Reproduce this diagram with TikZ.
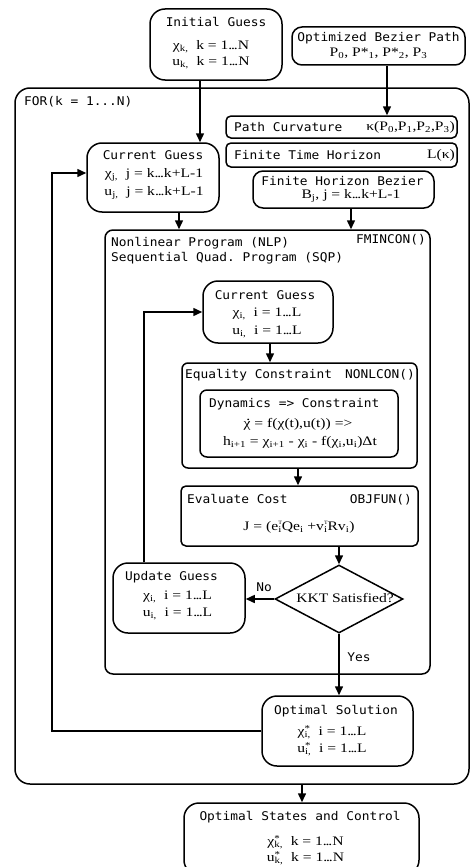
\documentclass[tikz,border=0pt]{standalone}
\usepackage{fontspec}
\setmainfont{Liberation Serif}
\setmonofont[FakeStretch=1.07]{DejaVu Sans Mono}
\newfontfamily\mthfont[FakeStretch=1.2]{Liberation Serif}
\usetikzlibrary{arrows.meta,shapes.geometric}
\newcommand\tsb[1]{\textsubscript{#1}}
\newcommand\ssb[2]{\rlap{\textsuperscript{#1}}\textsubscript{#2}}
\newcommand\dts{.\kern-0.09em.\kern-0.09em.}
\newcommand\chidot{\makebox[0pt][l]{\hspace{0.2em}\raisebox{1.2ex}{.}}χ}
\tikzset{
  box/.style={draw, line width=1.5pt, rectangle, inner sep=0pt},
  arr/.style={line width=1.5pt, -{Triangle[length=9pt,width=8pt]}},
  mono/.style={font=\fontsize{12}{14}\selectfont\ttfamily, inner sep=0pt},
  mth/.style={font=\fontsize{13}{15}\selectfont\mthfont, inner sep=0pt},
}
\begin{document}
\begin{tikzpicture}[x=1pt,y=-1pt]
\useasboundingbox[fill=white] (0,0) rectangle (471,867);
% boxes
\node[box, rounded corners=15pt, minimum width=132pt, minimum height=71pt] (ig) at (216,44.5) {};
\node[box, rounded corners=10pt, minimum width=173pt, minimum height=38pt] (obp) at (378.5,46) {};
\node[box, rounded corners=15pt, minimum width=454pt, minimum height=696pt] (for) at (242,436) {};
\node[box, rounded corners=5pt, minimum width=231pt, minimum height=22pt] (pc) at (341.5,127) {};
\node[box, rounded corners=5pt, minimum width=231pt, minimum height=24pt] (fth) at (341.5,155) {};
\node[box, rounded corners=15pt, minimum width=132pt, minimum height=69pt] (cg1) at (153,177.5) {};
\node[box, rounded corners=10pt, minimum width=181pt, minimum height=37pt] (fhb) at (343.5,189.5) {};
\node[box, rounded corners=8pt, minimum width=325pt, minimum height=444pt] (nlp) at (267.5,452) {};
\node[box, rounded corners=15pt, minimum width=130pt, minimum height=62pt] (cg2) at (268,312) {};
\node[box, rounded corners=6pt, minimum width=235pt, minimum height=105pt] (eq) at (299.5,415.5) {};
\node[box, rounded corners=7pt, minimum width=198pt, minimum height=67pt] (dyn) at (299,423.5) {};
\node[box, rounded corners=5pt, minimum width=237pt, minimum height=60pt] (ec) at (299.5,516) {};
\node[draw, line width=1.5pt, diamond, inner sep=0pt, minimum width=128pt, minimum height=68pt] (kkt) at (339,599) {};
\node[box, rounded corners=15pt, minimum width=132pt, minimum height=70pt] (ug) at (179,598) {};
\node[box, rounded corners=15pt, minimum width=151pt, minimum height=70pt] (os) at (337.5,731) {};
\node[box, rounded corners=15pt, minimum width=235pt, minimum height=72pt] (osc) at (301.5,839) {};
% texts
\node[mono] (t1) at (216,22) {Initial Guess};
\node[mth] (t2) at (211,47) {χ\tsb{k,}\ \ k = 1\dts N};
\node[mth] (t3) at (211,63) {u\tsb{k,}\ \ k = 1\dts N};
\node[mono] (t4) at (378.5,38) {Optimized Bezier Path};
\node[mth] (t5) at (378.5,53) {P\tsb{0}, P*\tsb{1}, P*\tsb{2}, P\tsb{3}};
\node[mono, anchor=west] (t6) at (24,102) {FOR(k = 1...N)};
\node[mono, anchor=west] (t7) at (234,127) {Path Curvature};
\node[mth, anchor=east] (t8) at (455,127) {κ(P\tsb{0},P\tsb{1},P\tsb{2},P\tsb{3})};
\node[mono, anchor=west] (t9) at (234,155) {Finite Time Horizon};
\node[mth, anchor=east] (t10) at (455,155) {L(κ)};
\node[mono] (t11) at (153,155) {Current Guess};
\node[mth] (t12) at (154,175) {χ\tsb{j,}\ \ j = k\dts k+L-1};
\node[mth] (t13) at (154,193) {u\tsb{j,}\ \ j = k\dts k+L-1};
\node[mono] (t14) at (342.5,181) {Finite Horizon Bezier};
\node[mth] (t15) at (351,196) {B\tsb{j}, j = k\dts k+L-1};
\node[mono, anchor=west] (t16) at (111,243) {Nonlinear Program (NLP)};
\node[mono, anchor=west] (t17) at (111,258) {Sequential Quad. Program (SQP)};
\node[mono, anchor=east] (t18) at (426,240) {FMINCON()};
\node[mono] (t19) at (265,295) {Current Guess};
\node[mth] (t20) at (267,314) {χ\tsb{i,}\ \ i = 1\dts L};
\node[mth] (t21) at (267,332) {u\tsb{i,}\ \ i = 1\dts L};
\node[mono, anchor=west] (t22) at (185,375) {Equality Constraint};
\node[mono, anchor=east] (t23) at (415,375) {NONLCON()};
\node[mono, anchor=west] (t24) at (209,404) {Dynamics => Constraint};
\node[mth] (t25) at (298,424) {\chidot{} = f(χ(t),u(t)) =>};
\node[mth] (t26) at (300,442) {h\tsb{i+1} = χ\tsb{i+1} - χ\tsb{i} - f(χ\tsb{i},u\tsb{i})Δt};
\node[mono, anchor=west] (t27) at (187,499) {Evaluate Cost};
\node[mono, anchor=east] (t28) at (412,500) {OBJFUN()};
\node[mth] (t29) at (299,527) {J = (e\ssb{\raisebox{0.25ex}{\tiny T}}{i}Qe\tsb{i} +v\ssb{\raisebox{0.25ex}{\tiny T}}{i}Rv\tsb{i})};
\node[mth] (t30) at (345,598) {KKT Satisfied?};
\node[mono, anchor=west] (t31) at (125,577) {Update Guess};
\node[mth] (t32) at (177.5,597) {χ\tsb{i,}\ \ i = 1\dts L};
\node[mth] (t33) at (177.5,614) {u\tsb{i,}\ \ i = 1\dts L};
\node[mono] (t34) at (264,587) {No};
\node[mono] (t35) at (359,657) {Yes};
\node[mono] (t36) at (336,711) {Optimal Solution};
\node[mth] (t37) at (332,732) {χ\ssb{*}{i,}\ \ i = 1\dts L};
\node[mth] (t38) at (332,749) {u\ssb{*}{i,}\ \ i = 1\dts L};
\node[mono] (t39) at (300,817) {Optimal States and Control};
\node[mth] (t40) at (305.5,842) {χ\ssb{*}{k,}\ \ k = 1\dts N};
\node[mth] (t41) at (305.5,858) {u\ssb{*}{k,}\ \ k = 1\dts N};
% connector x positions
\coordinate (xa) at (200,0);
\coordinate (xb) at (387,0);
\coordinate (xc) at (179,0);
\coordinate (xd) at (351,0);
\coordinate (xe) at (270,0);
\coordinate (xf) at (298,0);
\coordinate (xg) at (302,0);
\coordinate (fb1) at (144,0);
\coordinate (fb2) at (52,0);
\coordinate (cgin) at (0,173);
% connectors
\draw[arr] (ig.south -| xa) -- (cg1.north -| xa);
\draw[arr] (obp.south -| xb) -- (pc.north -| xb);
\draw[arr] (cg1.south -| xc) -- (nlp.north -| xc);
\draw[arr] (fhb.south -| xd) -- (nlp.north -| xd);
\draw[arr] (cg2.south -| xe) -- (eq.north -| xe);
\draw[arr] (eq.south -| xf) -- (ec.north -| xf);
\draw[arr] (ec.south -| kkt.north) -- (kkt.north);
\draw[arr] (kkt.west) -- (kkt.west -| ug.east);
\draw[arr] (kkt.south) -- (os.north -| kkt.south);
\draw[arr] (for.south -| xg) -- (osc.north -| xg);
\draw[arr] (ug.north -| fb1) |- (cg2.west);
\draw[arr] (os.west) -| (fb2 |- cgin) -- (cg1.west |- cgin);
\end{tikzpicture}
\end{document}
